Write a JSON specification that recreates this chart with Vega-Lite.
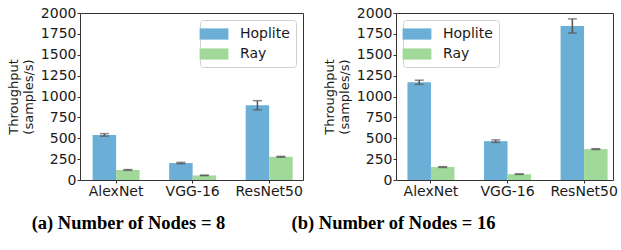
{
  "$schema": "https://vega.github.io/schema/vega-lite/v6.json",
  "padding": {"left": 6, "top": 5, "right": 5, "bottom": 5},
  "background": "white",
  "datasets": {
    "n8": [
      {"model": "AlexNet", "system": "Hoplite", "value": 540, "lo": 525, "hi": 555},
      {"model": "AlexNet", "system": "Ray", "value": 120, "lo": 115, "hi": 125},
      {"model": "VGG-16", "system": "Hoplite", "value": 203, "lo": 195, "hi": 211},
      {"model": "VGG-16", "system": "Ray", "value": 55, "lo": 52, "hi": 58},
      {"model": "ResNet50", "system": "Hoplite", "value": 895, "lo": 840, "hi": 950},
      {"model": "ResNet50", "system": "Ray", "value": 278, "lo": 273, "hi": 283}
    ],
    "n16": [
      {"model": "AlexNet", "system": "Hoplite", "value": 1170, "lo": 1145, "hi": 1195},
      {"model": "AlexNet", "system": "Ray", "value": 155, "lo": 150, "hi": 160},
      {"model": "VGG-16", "system": "Hoplite", "value": 465, "lo": 450, "hi": 480},
      {"model": "VGG-16", "system": "Ray", "value": 70, "lo": 67, "hi": 73},
      {"model": "ResNet50", "system": "Hoplite", "value": 1845, "lo": 1760, "hi": 1930},
      {"model": "ResNet50", "system": "Ray", "value": 370, "lo": 365, "hi": 375}
    ]
  },
  "bounds": "flush",
  "spacing": 93,
  "hconcat": [
    {
      "width": 223,
      "height": 167,
      "data": {"name": "n8"},
      "title": {"text": "(a) Number of Nodes = 8", "orient": "bottom", "dx": -63, "offset": 16},
      "encoding": {
        "x": {"field": "model", "type": "nominal", "sort": ["AlexNet", "VGG-16", "ResNet50"],
          "scale": {"paddingInner": 0.386, "paddingOuter": 0.15, "align": 0.55},
          "axis": {"title": null, "labelAngle": 0}},
        "xOffset": {"field": "system", "type": "nominal", "sort": ["Hoplite", "Ray"], "scale": {"paddingInner": 0, "paddingOuter": 0}}
      },
      "layer": [
        {
          "mark": {"type": "bar"},
          "encoding": {
            "y": {"field": "value", "type": "quantitative", "scale": {"domain": [0, 2000], "nice": false},
              "axis": {"values": [0, 250, 500, 750, 1000, 1250, 1500, 1750, 2000], "format": "d", "labelOverlap": false, "title": ["Throughput", "(samples/s)"]}},
            "color": {"field": "system", "type": "nominal", "scale": {"domain": ["Hoplite", "Ray"], "range": ["#6baed6", "#a1d99b"]},
              "legend": {"orient": "top-right", "offset": 7}}
          }
        },
        {"mark": {"type": "rule", "color": "#555555", "strokeWidth": 1.5},
          "encoding": {"y": {"field": "lo", "type": "quantitative",
              "axis": {"values": [0, 250, 500, 750, 1000, 1250, 1500, 1750, 2000], "format": "d", "labelOverlap": false, "title": ["Throughput", "(samples/s)"]}}, "y2": {"field": "hi"}}},
        {"mark": {"type": "tick", "color": "#555555", "thickness": 1.5, "size": 9},
          "encoding": {"y": {"field": "lo", "type": "quantitative",
              "axis": {"values": [0, 250, 500, 750, 1000, 1250, 1500, 1750, 2000], "format": "d", "labelOverlap": false, "title": ["Throughput", "(samples/s)"]}}}},
        {"mark": {"type": "tick", "color": "#555555", "thickness": 1.5, "size": 9},
          "encoding": {"y": {"field": "hi", "type": "quantitative",
              "axis": {"values": [0, 250, 500, 750, 1000, 1250, 1500, 1750, 2000], "format": "d", "labelOverlap": false, "title": ["Throughput", "(samples/s)"]}}}}
      ]
    },
    {
      "width": 217,
      "height": 167,
      "data": {"name": "n16"},
      "title": {"text": "(b) Number of Nodes = 16", "orient": "bottom", "dx": -111, "offset": 16},
      "encoding": {
        "x": {"field": "model", "type": "nominal", "sort": ["AlexNet", "VGG-16", "ResNet50"],
          "scale": {"paddingInner": 0.386, "paddingOuter": 0.11, "align": 0.68},
          "axis": {"title": null, "labelAngle": 0}},
        "xOffset": {"field": "system", "type": "nominal", "sort": ["Hoplite", "Ray"], "scale": {"paddingInner": 0, "paddingOuter": 0}}
      },
      "layer": [
        {
          "mark": {"type": "bar"},
          "encoding": {
            "y": {"field": "value", "type": "quantitative", "scale": {"domain": [0, 2000], "nice": false},
              "axis": {"values": [0, 250, 500, 750, 1000, 1250, 1500, 1750, 2000], "format": "d", "labelOverlap": false, "title": ["Throughput", "(samples/s)"]}},
            "color": {"field": "system", "type": "nominal", "scale": {"domain": ["Hoplite", "Ray"], "range": ["#6baed6", "#a1d99b"]},
              "legend": {"orient": "top-left", "offset": 7}}
          }
        },
        {"mark": {"type": "rule", "color": "#555555", "strokeWidth": 1.5},
          "encoding": {"y": {"field": "lo", "type": "quantitative",
              "axis": {"values": [0, 250, 500, 750, 1000, 1250, 1500, 1750, 2000], "format": "d", "labelOverlap": false, "title": ["Throughput", "(samples/s)"]}}, "y2": {"field": "hi"}}},
        {"mark": {"type": "tick", "color": "#555555", "thickness": 1.5, "size": 9},
          "encoding": {"y": {"field": "lo", "type": "quantitative",
              "axis": {"values": [0, 250, 500, 750, 1000, 1250, 1500, 1750, 2000], "format": "d", "labelOverlap": false, "title": ["Throughput", "(samples/s)"]}}}},
        {"mark": {"type": "tick", "color": "#555555", "thickness": 1.5, "size": 9},
          "encoding": {"y": {"field": "hi", "type": "quantitative",
              "axis": {"values": [0, 250, 500, 750, 1000, 1250, 1500, 1750, 2000], "format": "d", "labelOverlap": false, "title": ["Throughput", "(samples/s)"]}}}}
      ]
    }
  ],
  "resolve": {"scale": {"color": "independent"}, "legend": {"color": "independent"}},
  "config": {
    "view": {"stroke": "#333333", "strokeWidth": 1},
    "axis": {
      "domain": false,
      "grid": false,
      "ticks": true,
      "tickColor": "#333333",
      "tickSize": 3,
      "tickWidth": 1,
      "labelFont": "DejaVu Sans",
      "labelFontSize": 14,
      "labelColor": "#1a1a1a",
      "labelPadding": 1,
      "titleFont": "DejaVu Sans",
      "titleFontSize": 13,
      "titleFontWeight": "normal",
      "titleColor": "#1a1a1a",
      "titleLineHeight": 15,
      "titlePadding": 5
    },
    "legend": {
      "title": null,
      "fillColor": "white",
      "strokeColor": "#d0d0d0",
      "cornerRadius": 3,
      "padding": 6,
      "symbolType": "M-1.8,-0.7H1.8V0.7H-1.8Z",
      "symbolSize": 256,
      "symbolStrokeWidth": 0,
      "symbolOpacity": 1,
      "labelFont": "DejaVu Sans",
      "labelFontSize": 14,
      "labelColor": "#1a1a1a",
      "labelOffset": 18,
      "rowPadding": 5
    },
    "title": {
      "font": "Liberation Serif",
      "fontSize": 18.5,
      "fontWeight": "bold",
      "color": "#000000"
    }
  }
}
